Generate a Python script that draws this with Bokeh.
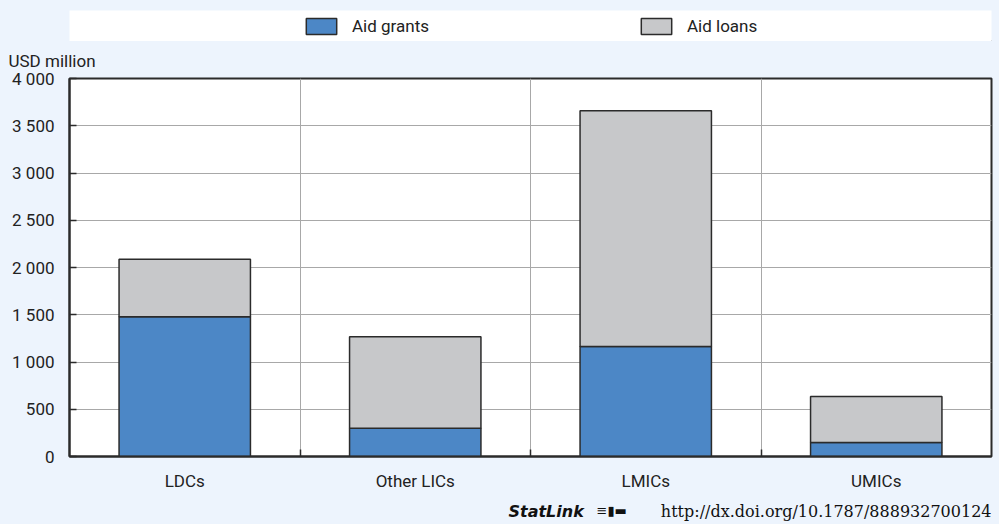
from bokeh.plotting import figure
from bokeh.layouts import column
from bokeh.models import ColumnDataSource, Range1d, FixedTicker, Legend, LegendItem
from bokeh.core.properties import value
from bokeh.embed import file_html
from bokeh.resources import INLINE

# ---- data ----
categories = ["LDCs", "Other LICs", "LMICs", "UMICs"]
aid_grants = [1478, 299, 1165, 148]
aid_loans = [610, 968, 2493, 486]
y_ticks = [0, 500, 1000, 1500, 2000, 2500, 3000, 3500, 4000]
y_tick_labels = ["0", "500", "1 000", "1 500", "2 000", "2 500", "3 000", "3 500", "4 000"]
series_names = ["Aid grants", "Aid loans"]
statlink_url = "http://dx.doi.org/10.1787/888932700124"

BG = "#EDF4FD"
BLUE = "#4C87C6"
GREY = "#C7C8CA"
EDGE = "#2B2B2B"
GRID = "#A8A8A8"
FONT = "Roboto"
FS = "17px"
TXT = "#222222"

x_pos = [i + 0.5 for i in range(len(categories))]
src = ColumnDataSource(dict(x=x_pos, grants=aid_grants, loans=aid_loans))

W = 999
ML, MR = 69, 8
FW = W - ML - MR  # frame width in px

# ---- legend strip ----
top = figure(width=W, height=41, output_backend="svg", toolbar_location=None,
             x_range=Range1d(0, 1), y_range=Range1d(0, 1),
             min_border_left=ML, min_border_right=MR, min_border_top=10, min_border_bottom=0)
top.axis.visible = False
top.grid.visible = False
top.outline_line_color = None
top.background_fill_color = "white"
top.border_fill_color = BG
dummy = ColumnDataSource(dict(x=[5.0], top=[0.0]))
r_g = top.vbar(x="x", top="top", width=0.1, source=dummy, fill_color=BLUE, line_color=EDGE, line_width=1.5)
r_l = top.vbar(x="x", top="top", width=0.1, source=dummy, fill_color=GREY, line_color=EDGE, line_width=1.5)
for rend, name, loc in [(r_g, series_names[0], (233, 5)), (r_l, series_names[1], (568, 5))]:
    lg = Legend(items=[LegendItem(label=name, renderers=[rend])], location=loc,
                orientation="horizontal", padding=0, margin=0, spacing=0,
                glyph_width=38, glyph_height=20, label_standoff=12, label_height=20,
                label_text_font=FONT, label_text_font_size=FS, label_text_color=TXT,
                border_line_color=None, background_fill_alpha=0)
    top.add_layout(lg)

# ---- main chart ----
p = figure(width=W, height=455, output_backend="svg", toolbar_location=None,
           x_range=Range1d(0, 4), y_range=Range1d(0, 4000),
           min_border_left=ML, min_border_right=MR, min_border_top=37, min_border_bottom=40,
           title="USD million")
p.background_fill_color = "white"
p.border_fill_color = BG
p.outline_line_color = EDGE
p.outline_line_width = 2

p.title.align = "left"
p.title.offset = -61
p.title.text_font = FONT
p.title.text_font_size = FS
p.title.text_font_style = "normal"
p.title.text_color = TXT
p.title.standoff = 15

p.vbar_stack(["grants", "loans"], x="x", width=0.57, source=src,
             fill_color=[BLUE, GREY], line_color=EDGE, line_width=1.5)

# y axis
p.yaxis.ticker = FixedTicker(ticks=y_ticks)
p.yaxis.major_label_overrides = {t: s for t, s in zip(y_ticks, y_tick_labels)}
p.yaxis.major_tick_in = 7
p.yaxis.major_tick_out = 0
p.yaxis.minor_tick_line_color = None
p.yaxis.major_tick_line_color = EDGE
p.yaxis.major_tick_line_width = 1.5
p.yaxis.axis_line_color = EDGE
p.yaxis.axis_line_width = 2
p.yaxis.major_label_standoff = 15
p.yaxis.major_label_text_font = FONT
p.yaxis.major_label_text_font_size = FS
p.yaxis.major_label_text_color = TXT

# x axis
p.xaxis.ticker = FixedTicker(ticks=x_pos, minor_ticks=[1, 2, 3])
p.xaxis.major_label_overrides = {x: c for x, c in zip(x_pos, categories)}
p.xaxis.major_tick_in = 0
p.xaxis.major_tick_out = 0
p.xaxis.minor_tick_in = 7
p.xaxis.minor_tick_out = 0
p.xaxis.minor_tick_line_color = EDGE
p.xaxis.minor_tick_line_width = 1.5
p.xaxis.axis_line_color = EDGE
p.xaxis.axis_line_width = 2
p.xaxis.major_label_standoff = 14
p.xaxis.major_label_text_font = FONT
p.xaxis.major_label_text_font_size = FS
p.xaxis.major_label_text_color = TXT

# grids
p.ygrid.ticker = FixedTicker(ticks=y_ticks)
p.ygrid.grid_line_color = GRID
p.ygrid.grid_line_width = 1
p.xgrid.ticker = FixedTicker(ticks=[1, 2, 3])
p.xgrid.grid_line_color = GRID
p.xgrid.grid_line_width = 1

# ---- StatLink footer (frame aligned with the chart frame) ----
foot = figure(width=W, height=28, output_backend="svg", toolbar_location=None,
              x_range=Range1d(0, FW), y_range=Range1d(0, 28),
              min_border_left=ML, min_border_right=MR, min_border_top=0, min_border_bottom=0)
foot.axis.visible = False
foot.grid.visible = False
foot.outline_line_color = None
foot.background_fill_color = BG
foot.border_fill_color = BG
foot.text(x=[439], y=[13], text=["StatLink"], text_font=value("DejaVu Sans"),
          text_font_style="bold italic", text_font_size="16px", text_color="#111111",
          text_baseline="middle", text_align="left")
foot.text(x=[527], y=[14], text=["\u2261\u25AE\u25AC"], text_font=value("DejaVu Sans"),
          text_font_size="13px", text_color="#111111",
          text_baseline="middle", text_align="left")
foot.text(x=[FW], y=[13], text=[statlink_url], text_font=value("DejaVu Serif"),
          text_font_size="16px", text_color="#111111",
          text_baseline="middle", text_align="right")

layout = column(top, p, foot, spacing=0, styles={"background-color": BG})

html = file_html(layout, INLINE)
html = html.replace("<head>", "<head><style>html,body{background:%s;}</style>" % BG, 1)
open("out.html", "w").write(html)
